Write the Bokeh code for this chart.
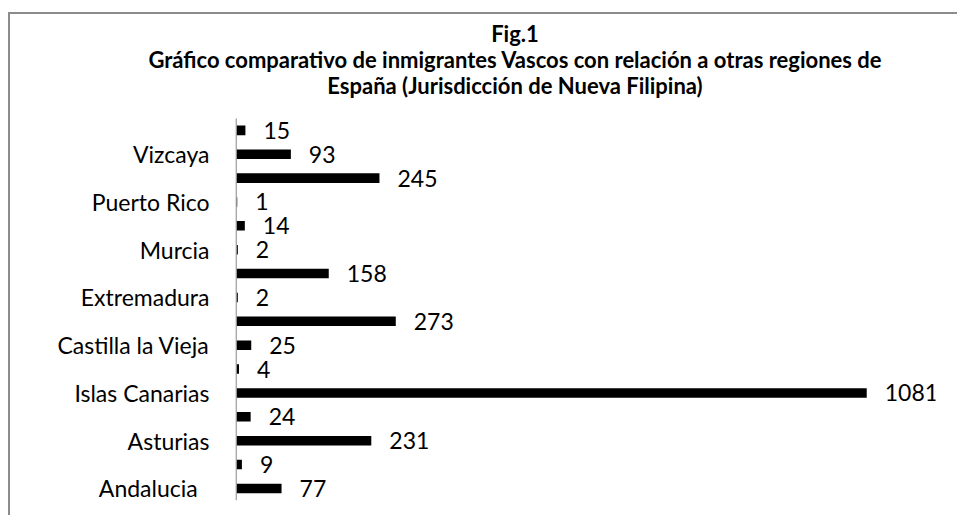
from bokeh.plotting import figure
from bokeh.models import ColumnDataSource, FixedTicker, Range1d, Div, Spacer
from bokeh.layouts import column, row
from bokeh.core.properties import value
from bokeh.embed import file_html
from bokeh.resources import INLINE

# Data (bottom to top, as drawn)
region_labels = ["Andalucia", "", "Asturias", "", "Islas Canarias", "",
                 "Castilla la Vieja", "", "Extremadura", "", "Murcia", "",
                 "Puerto Rico", "", "Vizcaya", ""]
counts = [77, 9, 231, 24, 1081, 4, 25, 273, 2, 158, 2, 14, 1, 245, 93, 15]

title_lines = ["Fig.1",
               "Gráfico comparativo de inmigrantes Vascos con relación a otras regiones de",
               "España  (Jurisdicción de Nueva Filipina)"]

n = len(counts)
pos = list(range(n))
src = ColumnDataSource(dict(y=pos, v=counts, t=[str(c) for c in counts]))

W = 960
p = figure(width=W, height=409, output_backend="svg", toolbar_location=None,
           x_range=Range1d(-2, 1199), y_range=Range1d(-0.8, n - 0.5 + 0.5),
           min_border_left=225, min_border_right=35, min_border_top=0,
           min_border_bottom=8, title=None, margin=(0, 0, 0, 0))

p.hbar(y="y", right="v", left=0, height=0.4, source=src,
       fill_color="black", line_color=None)
p.text(x="v", y="y", text="t", source=src, x_offset=18, text_align="left",
       text_baseline="middle", text_font=value("Lato"), text_font_size="23px",
       text_color="black")
# vertical category axis line spanning the bands only
p.segment(x0=[-1], y0=[-0.5], x1=[-1], y1=[n - 0.5], line_color="#8a8a8a",
          line_width=1.3)

p.xaxis.visible = False
p.xgrid.visible = False
p.ygrid.visible = False
p.outline_line_color = None

yax = p.yaxis[0]
yax.ticker = FixedTicker(ticks=[i for i, l in enumerate(region_labels) if l])
overrides = {i: l for i, l in enumerate(region_labels) if l}
overrides[0] = region_labels[0] + "\u00a0\u00a0"
yax.major_label_overrides = overrides
yax.major_tick_line_color = None
yax.minor_tick_line_color = None
yax.major_tick_out = 0
yax.major_tick_in = 0
yax.major_label_standoff = 26
yax.major_label_text_font = "Lato"
yax.major_label_text_font_size = "23px"
yax.major_label_text_color = "black"
yax.axis_line_color = None

title_html = (
    '<div style="position:relative;width:%dpx;height:92px;">'
    '<div style="position:absolute;left:105px;top:7px;width:800px;text-align:center;'
    'font-family:Lato;font-weight:bold;font-size:22px;line-height:26px;color:black;">'
    % W + "<br>".join(title_lines) + "</div></div>"
)
title_div = Div(text=title_html, width=W, height=92, margin=(0, 0, 0, 0))

BORDER = "#8c8c8c"
top_rule = Div(text="", width=W + 8, height=2, margin=(0, 0, 0, 0),
               styles={"background-color": BORDER})
left_rule = Div(text="", width=2, height=2 + 92 + 409, margin=(0, 0, 0, 0),
                styles={"background-color": BORDER})

inner = column(top_rule, title_div, p, spacing=0, margin=(0, 0, 0, 0))
body = row(Spacer(width=8, margin=(0, 0, 0, 0)), left_rule, inner, spacing=0,
           margin=(0, 0, 0, 0))
layout = column(Spacer(height=12, margin=(0, 0, 0, 0)), body, spacing=0,
                margin=(0, 0, 0, 0))

open("out.html", "w").write(file_html(layout, INLINE))
